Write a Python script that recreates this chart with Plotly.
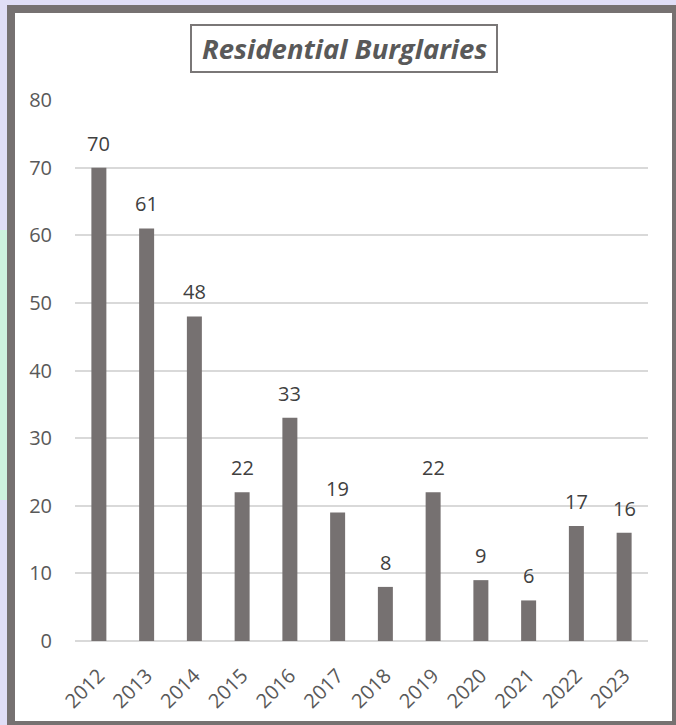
import plotly.graph_objects as go

years = ["2012", "2013", "2014", "2015", "2016", "2017", "2018", "2019", "2020", "2021", "2022", "2023"]
burglaries = [70, 61, 48, 22, 33, 19, 8, 22, 9, 6, 17, 16]
y_ticks = [0, 10, 20, 30, 40, 50, 60, 70, 80]
title_text = "Residential Burglaries"

W, H = 676, 725
L, R, T, B = 75, 28, 100, 84
PW, PH = W - L - R, H - T - B

def px(x):
    return (x - L) / PW

def py(y):
    return (H - B - y) / PH

BAR = "#767171"
TXT = "#595959"
FONT = "Open Sans"

fig = go.Figure(go.Bar(
    x=years, y=burglaries, marker=dict(color=BAR, line=dict(width=0)),
    hoverinfo="x+y",
))

annotations = []
for i, v in enumerate(burglaries):
    annotations.append(dict(x=i, y=v, xref="x", yref="y", text=str(v),
                            showarrow=False, yanchor="bottom", yshift=9,
                            font=dict(family=FONT, size=20, color="#404040")))
annotations.append(dict(xref="paper", yref="paper", x=px(344), y=py(49), text=f"<b><i>{title_text}</i></b>",
                        showarrow=False, xanchor="center", yanchor="middle",
                        font=dict(family=FONT, size=27.5, color=TXT)))

shapes = [
    dict(type="rect", xref="paper", yref="paper", x0=px(0), x1=px(7), y0=py(500), y1=py(230),
         fillcolor="#cdf2df", line=dict(width=0), layer="below"),
    dict(type="rect", xref="paper", yref="paper", x0=px(11), x1=px(676), y0=py(725), y1=py(9),
         fillcolor="white", line=dict(color=BAR, width=8), layer="below"),
    dict(type="rect", xref="paper", yref="paper", x0=px(191), x1=px(497), y0=py(72), y1=py(25),
         fillcolor="white", line=dict(color="#7a7777", width=2), layer="below"),
]

fig.update_layout(
    width=W, height=H,
    margin=dict(l=L, r=R, t=T, b=B, pad=0),
    paper_bgcolor="#e0def6",
    plot_bgcolor="white",
    bargap=0.686,
    showlegend=False,
    font=dict(family=FONT, size=20, color=TXT),
    annotations=annotations,
    shapes=shapes,
    xaxis=dict(type="category", range=[-0.5, len(years) - 0.5], tickangle=-45, showgrid=False,
               showline=False, zeroline=False,
               tickfont=dict(family=FONT, size=20, color=TXT), ticks="", ticklabelstandoff=18),
    yaxis=dict(range=[0, 80], tickvals=y_ticks, showgrid=True, gridcolor="#d9d9d9", gridwidth=1.5,
               zeroline=True, zerolinecolor="#d9d9d9", zerolinewidth=1.5, showline=False,
               ticks="", tickfont=dict(family=FONT, size=20, color=TXT), ticklabelstandoff=22),
)

fig.write_html("out.html", config={"displayModeBar": False},
               post_script="document.body.style.margin='0';")
